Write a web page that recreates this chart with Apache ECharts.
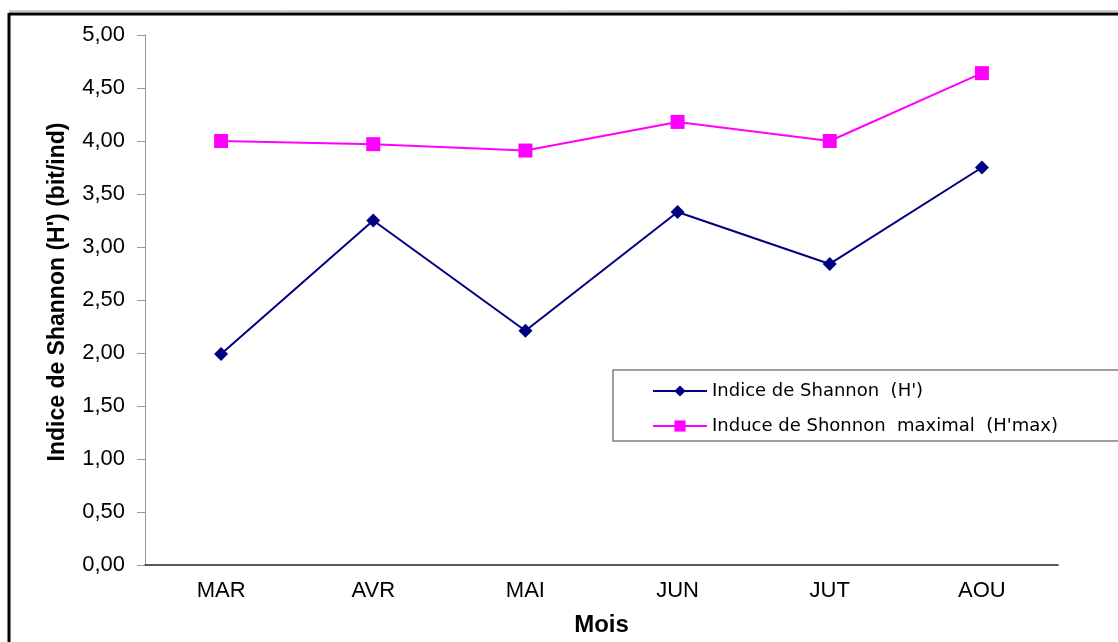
<!DOCTYPE html>
<html>
<head>
<meta charset="utf-8">
<script src="https://cdn.jsdelivr.net/npm/echarts@6/dist/echarts.min.js"></script>
<style>
  html, body { margin: 0; padding: 0; background: #fff; }
  #chart { width: 1118px; height: 642px; }
</style>
</head>
<body>
<div id="chart"></div>
<script>
const months = ["MAR", "AVR", "MAI", "JUN", "JUT", "AOU"];
const shannon = [1.99, 3.25, 2.21, 3.33, 2.84, 3.75];
const shannonMax = [4.00, 3.97, 3.91, 4.18, 4.00, 4.64];
const yTicks = { min: 0, max: 5, interval: 0.5 };

const font = "'Liberation Sans', Arial, sans-serif";
const legendFont = "'DejaVu Sans', sans-serif";
const chart = echarts.init(document.getElementById("chart"));

chart.setOption({
  animation: false,
  textStyle: { fontFamily: font },
  grid: { left: 145, right: 60, top: 35, bottom: 77 },
  // cadre extérieur + cadre de la légende
  graphic: [
    { type: "line", shape: { x1: 9, y1: 11, x2: 1118, y2: 11 }, style: { stroke: "#999", lineWidth: 1 } },
    { type: "line", shape: { x1: 9, y1: 14, x2: 1118, y2: 14 }, style: { stroke: "#000", lineWidth: 3 } },
    { type: "line", shape: { x1: 9, y1: 13, x2: 9, y2: 642 }, style: { stroke: "#000", lineWidth: 3 } },
    {
      type: "rect",
      shape: { x: 613, y: 370, width: 520, height: 71 },
      style: { fill: "#fff", stroke: "#808080", lineWidth: 1.5 },
      z: 5
    }
  ],
  legend: {
    orient: "vertical",
    left: 647,
    top: 377,
    itemWidth: 54,
    itemHeight: 14,
    itemGap: 17,
    z: 10,
    textStyle: { fontFamily: legendFont, fontSize: 18, color: "#000" },
    data: [
      { name: "Indice de Shannon  (H')" },
      { name: "Induce de Shonnon  maximal  (H'max)" }
    ]
  },
  xAxis: {
    type: "category",
    data: months,
    boundaryGap: true,
    name: "Mois",
    nameLocation: "middle",
    nameGap: 48,
    nameTextStyle: { fontFamily: font, fontSize: 24, fontWeight: "bold", color: "#000" },
    axisLine: { lineStyle: { color: "#222", width: 1.5 } },
    axisTick: { alignWithLabel: true, length: 6, lineStyle: { color: "#444" } },
    axisLabel: { fontSize: 22, color: "#000", margin: 15, fontFamily: font }
  },
  yAxis: {
    type: "value",
    min: yTicks.min,
    max: yTicks.max,
    interval: yTicks.interval,
    name: "Indice de Shannon (H') (bit/ind)",
    nameLocation: "middle",
    nameGap: 76,
    nameTextStyle: {
      fontFamily: font, fontSize: 23, fontWeight: "bold", color: "#000",
      padding: [0, 0, 0, 16]
    },
    axisLine: { show: true, lineStyle: { color: "#999", width: 1 } },
    axisTick: { show: true, length: 8, lineStyle: { color: "#999" } },
    splitLine: { show: false },
    axisLabel: {
      fontSize: 22,
      color: "#000",
      margin: 20,
      fontFamily: font,
      formatter: v => v.toFixed(2).replace(".", ",")
    }
  },
  series: [
    {
      name: "Indice de Shannon  (H')",
      type: "line",
      data: shannon,
      symbol: "diamond",
      symbolSize: 14,
      itemStyle: { color: "#000080" },
      lineStyle: { color: "#000080", width: 2 }
    },
    {
      name: "Induce de Shonnon  maximal  (H'max)",
      type: "line",
      data: shannonMax,
      symbol: "rect",
      symbolSize: 14,
      itemStyle: { color: "#FF00FF" },
      lineStyle: { color: "#FF00FF", width: 2 }
    }
  ]
});
</script>
</body>
</html>
